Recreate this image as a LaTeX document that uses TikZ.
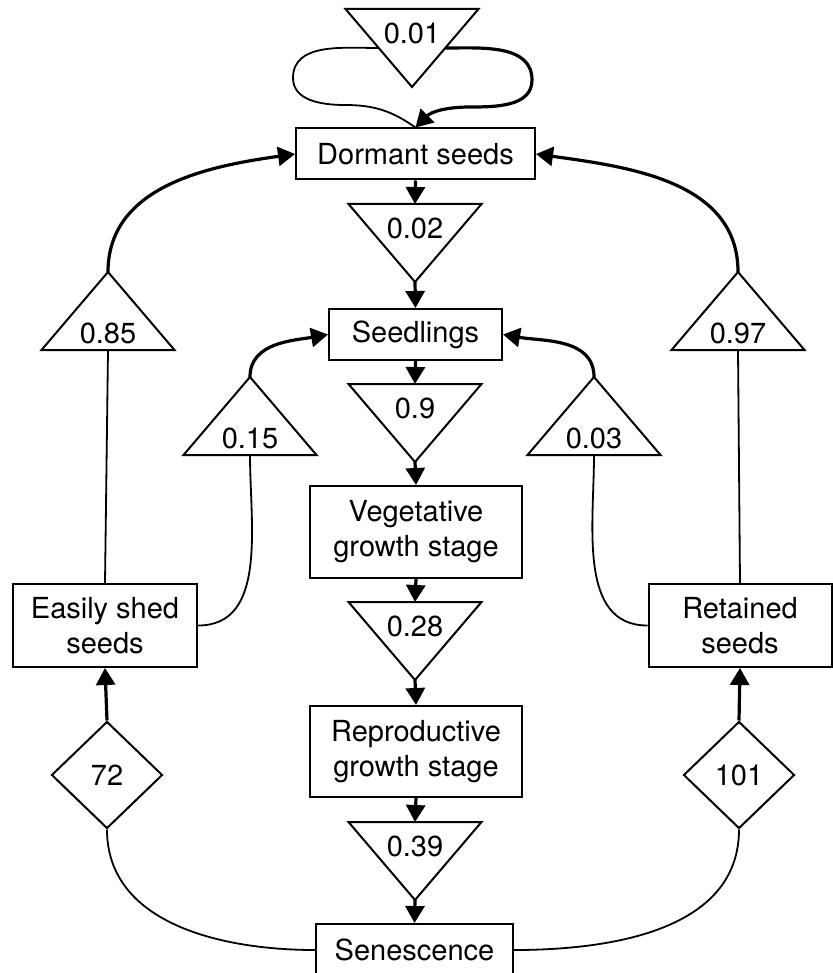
\documentclass[tikz,border=0pt]{standalone}
\usepackage{fontspec}
\setmainfont{TeX Gyre Heros}
\usetikzlibrary{%
  arrows.meta,%
  shapes.geometric% diamonds
}

\tikzset{
  stage/.style={draw, rectangle, align=center, inner sep=0pt, line width=1pt},
  tri/.style={line width=1pt, line join=miter},
  prob/.style={inner sep=0pt},
  rate/.style={draw, diamond, minimum width=55.5pt, minimum height=53.5pt,
    inner sep=0pt, line width=1pt},
  flow/.style={->, line width=1.6pt},
  link/.style={line width=0.9pt},
}

\begin{document}
\begin{tikzpicture}[
  x=0.5pt, y=-0.5pt,
  font=\fontsize{14.5}{17.5}\selectfont,
  >={Triangle[length=8.5pt,width=9.5pt]},
]
\useasboundingbox (0,0) rectangle (833,973);

% middle column
\node[stage, minimum width=119.5pt, minimum height=25.5pt] (dormant) at (415.5,154) {Dormant seeds};
\node[stage, minimum width=86.5pt, minimum height=25.5pt] (seedl) at (415.5,334.5) {Seedlings};
\node[stage, minimum width=106pt, minimum height=46pt] (veget) at (416,532) {Vegetative\\growth stage};
\node[stage, minimum width=106pt, minimum height=45.5pt] (repro) at (416,751.5) {Reproductive\\growth stage};
\node[stage, minimum width=98.5pt, minimum height=26pt] (senesc) at (414.5,950) {Senescence};

% transition triangles, pointing down
\foreach \n/\x/\y/\t in {p01/412/9/0.01, p02/415/204/0.02, p09/415/384/0.9,
                         p28/415/602/0.28, p39/415/822/0.39} {
  \draw[tri] (\x-66.5,\y) -- (\x+66.5,\y) -- (\x,\y+78) -- cycle;
  \node[prob] (\n) at (\x,\y+24) {\t};
  \coordinate (\n-base) at (\x,\y);
  \coordinate (\n-tip) at (\x,\y+78);
}
\coordinate (p01-left) at (378.75,48);
\coordinate (p01-right) at (445.25,48);

% side boxes
\node[stage, minimum width=92pt, minimum height=41.5pt] (easy) at (105,625.5) {Easily shed\\seeds};
\node[stage, minimum width=91.5pt, minimum height=41.5pt] (retain) at (740,625.5) {Retained\\seeds};

% transition triangles, pointing up
\foreach \n/\x/\y/\t in {p85/108/350/0.85, p15/250/455/0.15,
                         p03/594/455/0.03, p97/738/350/0.97} {
  \draw[tri] (\x-66.5,\y) -- (\x+66.5,\y) -- (\x,\y-78) -- cycle;
  \node[prob] (\n) at (\x,\y-17) {\t};
  \coordinate (\n-base) at (\x,\y);
  \coordinate (\n-tip) at (\x,\y-78);
}

\node[rate] (d72) at (107,775) {72};
\node[rate] (d101) at (739,775) {101};

% main chain
\draw[flow] (dormant.south) -- (p02-base);
\draw[flow] (p02-tip) -- (seedl.north);
\draw[flow] (seedl.south) -- (p09-base);
\draw[flow] (p09-tip) -- (veget.north);
\draw[flow] (veget.south) -- (p28-base);
\draw[flow] (p28-tip) -- (repro.north);
\draw[flow] (repro.south) -- (p39-base);
\draw[flow] (p39-tip) -- (senesc.north);

% dormancy loop
\draw[link] (dormant.north) to[out=145,in=0] (345,105) to[out=180,in=-90] (293,78)
  to[out=90,in=180] (p01-left);
\draw[flow] (p01-right) to[out=0,in=90] (532,80) to[out=-90,in=0] (470,107)
  to[out=180,in=45] (dormant.north);

% seed bank returns
\draw[link] (easy.north) -- (p85-base);
\draw[flow] (p85-tip) to[out=90,in=188] (dormant.west);
\draw[link] (easy.east) to[out=0,in=-90] (p15-base);
\draw[flow] (p15-tip) to[out=90,in=190] (seedl.west);
\draw[link] (retain.west) to[out=180,in=-90] (p03-base);
\draw[flow] (p03-tip) to[out=90,in=-10] (seedl.east);
\draw[link] (retain.north) -- (p97-base);
\draw[flow] (p97-tip) to[out=90,in=-8] (dormant.east);

% seed production
\draw[link] (senesc.west) to[out=180,in=-90] (d72.south);
\draw[link] (senesc.east) to[out=0,in=-90] (d101.south);
\draw[flow] (d72.north) -- (easy.south);
\draw[flow] (d101.north) -- (retain.south);

\end{tikzpicture}
\end{document}
